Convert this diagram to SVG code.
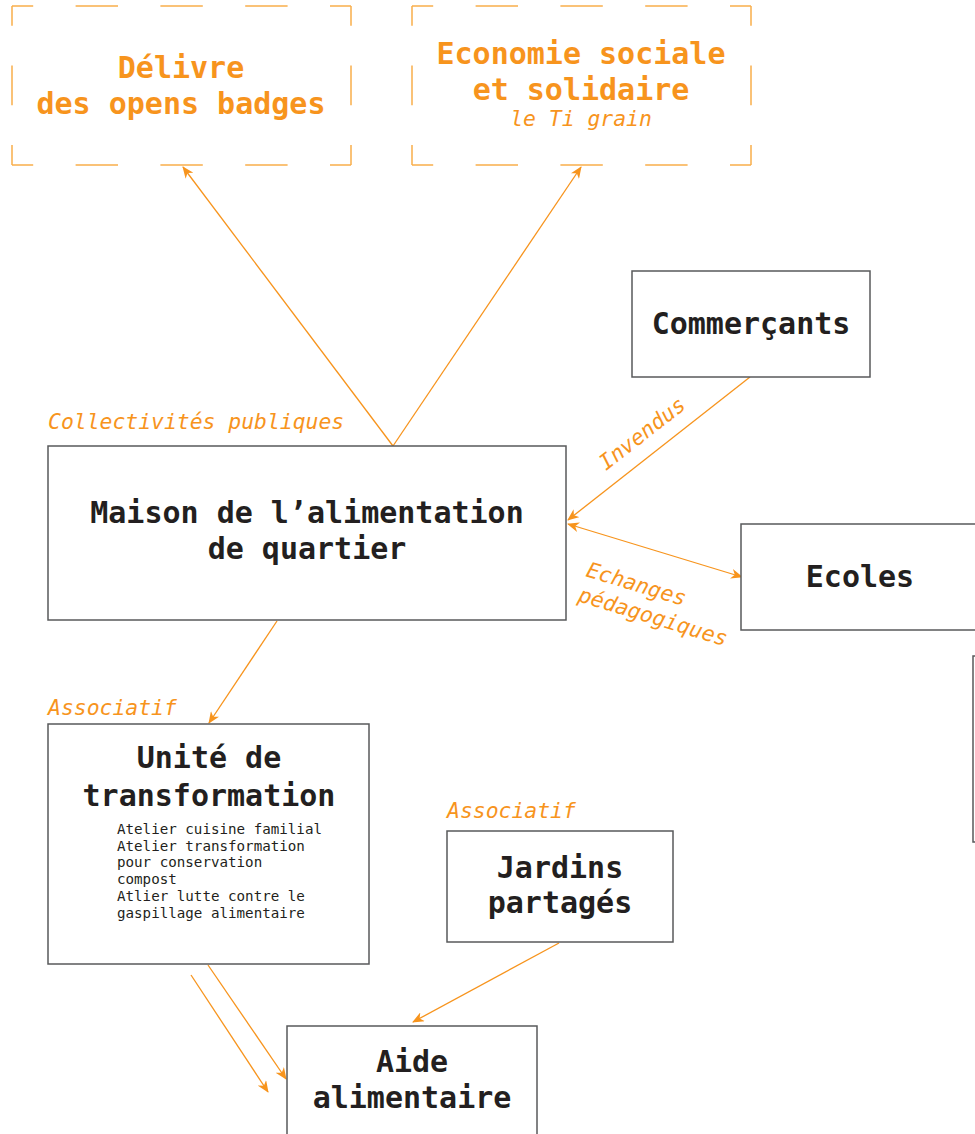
<svg xmlns="http://www.w3.org/2000/svg" width="975" height="1134" viewBox="0 0 975 1134">
<defs>
<style>
.box{fill:#fff;stroke:#58595B;stroke-width:1.5}
.dh{fill:none;stroke:#F9AE4B;stroke-width:1.5;stroke-dasharray:42.4 42.4;stroke-dashoffset:21.2}
.dv{fill:none;stroke:#F9AE4B;stroke-width:1.5;stroke-dasharray:39.75 39.75;stroke-dashoffset:19.9}
.t{font-family:"DejaVu Sans Mono","Liberation Mono",monospace;font-weight:bold;font-size:30px;fill:#231F20;text-anchor:middle}
.to{font-family:"DejaVu Sans Mono","Liberation Mono",monospace;font-weight:bold;font-size:30px;fill:#F7941D;text-anchor:middle}
.it{font-family:"DejaVu Sans Mono","Liberation Mono",monospace;font-style:italic;font-size:21.4px;fill:#F7941D}
.sm{font-family:"DejaVu Sans Mono","Liberation Mono",monospace;font-size:14.2px;fill:#231F20}
.c{fill:none;stroke:#F7941D;stroke-width:1.3}
</style>
<marker id="ah" viewBox="0 0 12 10" refX="11" refY="5" markerWidth="12" markerHeight="10" markerUnits="userSpaceOnUse" orient="auto-start-reverse">
<path d="M0,0 L12,5 L0,10 L3.5,5 z" fill="#F7941D"/>
</marker>
</defs>

<g id="connectors">
<path class="c" d="M393,446 L183,167" marker-end="url(#ah)"/>
<path class="c" d="M393,446 L581,167" marker-end="url(#ah)"/>
<path class="c" d="M750,377 L568,520" marker-end="url(#ah)"/>
<path class="c" d="M568,524 L742,577" marker-start="url(#ah)" marker-end="url(#ah)"/>
<path class="c" d="M277,621 L209,723" marker-end="url(#ah)"/>
<path class="c" d="M559,943 L413,1022" marker-end="url(#ah)"/>
<path class="c" d="M208,965 L286,1079" marker-end="url(#ah)"/>
<path class="c" d="M191,975 L268,1092" marker-end="url(#ah)"/>
<text class="it" transform="translate(606,471) rotate(-38)">Invendus</text>
<text class="it" transform="translate(585,576) rotate(17)">Echanges</text>
<text class="it" transform="translate(577,601) rotate(17)">pédagogiques</text>
</g>

<g id="node-badges">
<path class="dh" d="M12,6 H351"/>
<path class="dh" d="M12,165 H351"/>
<path class="dv" d="M12,6 V165"/>
<path class="dv" d="M351,6 V165"/>
<text class="to" x="181" y="78">Délivre</text>
<text class="to" x="181" y="114">des opens badges</text>
</g>

<g id="node-ess">
<path class="dh" d="M412,6 H751"/>
<path class="dh" d="M412,165 H751"/>
<path class="dv" d="M412,6 V165"/>
<path class="dv" d="M751,6 V165"/>
<text class="to" x="581" y="64">Economie sociale</text>
<text class="to" x="581" y="100">et solidaire</text>
<text class="it" x="581" y="126" text-anchor="middle">le Ti grain</text>
</g>

<g id="node-commercants">
<rect class="box" x="632" y="271" width="238" height="106"/>
<text class="t" x="751" y="334">Commerçants</text>
</g>

<g id="node-maison">
<text class="it" x="48" y="429">Collectivités publiques</text>
<rect class="box" x="48" y="446" width="518" height="174"/>
<text class="t" x="307" y="523">Maison de l’alimentation</text>
<text class="t" x="307" y="559">de quartier</text>
</g>

<g id="node-ecoles">
<rect class="box" x="741" y="524" width="250" height="106"/>
<text class="t" x="860" y="587">Ecoles</text>
</g>

<g id="node-partial">
<rect class="box" x="973" y="656" width="40" height="186"/>
</g>

<g id="node-unite">
<text class="it" x="48" y="715">Associatif</text>
<rect class="box" x="48" y="724" width="321" height="240"/>
<text class="t" x="209" y="768">Unité de</text>
<text class="t" x="209" y="806">transformation</text>
<text class="sm" x="117" y="834">Atelier cuisine familial</text>
<text class="sm" x="117" y="851">Atelier transformation</text>
<text class="sm" x="117" y="867">pour conservation</text>
<text class="sm" x="117" y="884">compost</text>
<text class="sm" x="117" y="901">Atlier lutte contre le</text>
<text class="sm" x="117" y="918">gaspillage alimentaire</text>
</g>

<g id="node-jardins">
<text class="it" x="447" y="818">Associatif</text>
<rect class="box" x="447" y="831" width="226" height="111"/>
<text class="t" x="560" y="878">Jardins</text>
<text class="t" x="560" y="913">partagés</text>
</g>

<g id="node-aide">
<rect class="box" x="287" y="1026" width="250" height="120"/>
<text class="t" x="412" y="1072">Aide</text>
<text class="t" x="412" y="1108">alimentaire</text>
</g>
</svg>
